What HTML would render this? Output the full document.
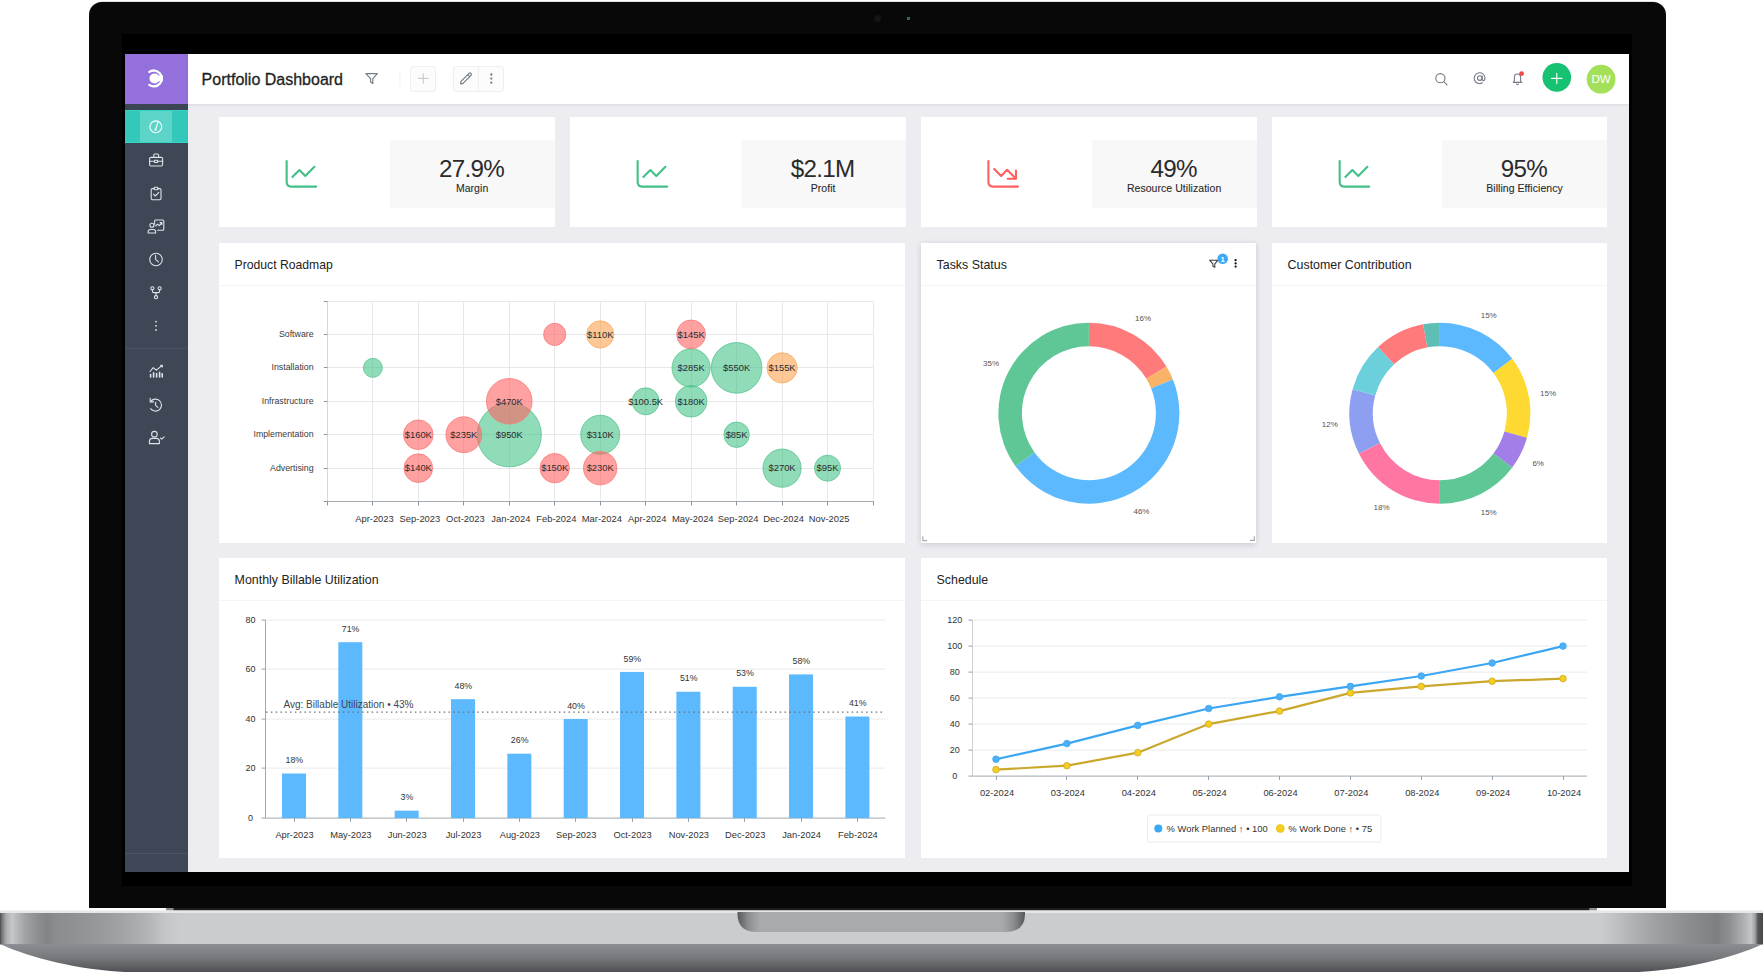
<!DOCTYPE html>
<html>
<head>
<meta charset="utf-8">
<title>Portfolio Dashboard</title>
<style>
*{box-sizing:border-box;margin:0;padding:0}
html,body{width:1763px;height:972px;overflow:hidden;background:#fff}
body{position:relative;font-family:"Liberation Sans",Arial,sans-serif;color:#222}
.abs{position:absolute}
#bezel{left:89px;top:1.8px;width:1576.6px;height:906px;background:#080808;border-radius:13px 13px 0 0;box-shadow:0 -0.5px 0.5px #c8c8c8}
#screen{left:122px;top:34px;width:1510px;height:852px;background:#000}
#cam{left:874px;top:15px;width:7px;height:7px;border-radius:50%;background:#141417}
#led{left:907px;top:17px;width:3px;height:3px;background:#2d6b55}
#app{left:125px;top:54px;width:1504px;height:818px;background:#ececf1;overflow:hidden}
#side{left:0;top:0;width:62.6px;height:818px;background:#3e4756}
#logo{left:0;top:0;width:62.6px;height:50px;background:#9370db}
#side .band{left:0;top:50px;width:62.6px;height:6px;background:#3c4553}
#side .act{left:0;top:56px;width:62.6px;height:33px;background:#33c8b9;border-top:1px solid #34d6c6;border-bottom:1px solid #34d6c6}
#side .act i{position:absolute;left:14.8px;top:0px;width:32.4px;height:31px;background:#5dd4c8}
#head{left:62.6px;top:0;width:1441.4px;height:51px;background:#fff;border-bottom:1px solid #dfe0e5;box-shadow:0 1px 3px rgba(60,60,90,0.05);z-index:2}
.card{position:absolute;background:#fff}
.kpi .box{position:absolute;right:0;top:22.6px;width:165px;height:68.2px;background:#f8f8f9;text-align:center}
.kpi .num{position:absolute;left:0;right:0;top:14.8px;font-size:24.2px;line-height:28px;color:#2b2b2b;letter-spacing:-0.7px;padding-right:1px}
.kpi .lbl{position:absolute;left:0;right:0;top:41.9px;font-size:10.5px;line-height:13px;color:#2a2a2a;letter-spacing:0.05px;-webkit-text-stroke:0.1px #2a2a2a}
.kpi svg.ic{position:absolute;left:61px;top:37.8px}
.ct{position:absolute;left:15.6px;top:13.8px;font-size:12.4px;line-height:16px;color:#222;white-space:nowrap}
.hsep{position:absolute;left:0;right:0;top:41.5px;height:1px;background:#f4f4f6}
svg text{font-family:"Liberation Sans",Arial,sans-serif}
#base{left:0;top:907px;width:1763px;height:65px}
</style>
</head>
<body>
<svg id="base" class="abs" width="1763" height="65" viewBox="0 907 1763 65">
<defs>
<linearGradient id="bandg" x1="0" x2="1763" y1="0" y2="0" gradientUnits="userSpaceOnUse">
<stop offset="0.00000" stop-color="#46484c"/>
<stop offset="0.00085" stop-color="#6e7074"/>
<stop offset="0.00340" stop-color="#a9abae"/>
<stop offset="0.00681" stop-color="#c6c8cb"/>
<stop offset="0.01021" stop-color="#b3b5b8"/>
<stop offset="0.01475" stop-color="#9fa1a5"/>
<stop offset="0.02155" stop-color="#8c8e92"/>
<stop offset="0.02666" stop-color="#828488"/>
<stop offset="0.03120" stop-color="#8a8c90"/>
<stop offset="0.05105" stop-color="#939599"/>
<stop offset="0.06807" stop-color="#a0a2a6"/>
<stop offset="0.08338" stop-color="#b1b3b6"/>
<stop offset="0.09359" stop-color="#c4c6c9"/>
<stop offset="0.10210" stop-color="#cacdd0"/>
<stop offset="0.90754" stop-color="#cacdd0"/>
<stop offset="0.91435" stop-color="#c2c4c7"/>
<stop offset="0.92513" stop-color="#b1b3b6"/>
<stop offset="0.94101" stop-color="#9c9ea2"/>
<stop offset="0.95746" stop-color="#8b8d91"/>
<stop offset="0.97391" stop-color="#7d7f83"/>
<stop offset="0.98128" stop-color="#8e9094"/>
<stop offset="0.98979" stop-color="#b2b4b7"/>
<stop offset="0.99319" stop-color="#c4c6c9"/>
<stop offset="0.99546" stop-color="#a0a2a6"/>
<stop offset="0.99716" stop-color="#55575b"/>
<stop offset="1.00000" stop-color="#45474b"/>
</linearGradient>
<linearGradient id="botg" x1="0" x2="0" y1="944" y2="972" gradientUnits="userSpaceOnUse">
<stop offset="0" stop-color="#8a8d91"/>
<stop offset="0.5" stop-color="#76787c"/>
<stop offset="1" stop-color="#4e5054"/>
</linearGradient>
<linearGradient id="notchg" x1="737" x2="1025" y1="0" y2="0" gradientUnits="userSpaceOnUse">
<stop offset="0" stop-color="#55575b"/>
<stop offset="0.04" stop-color="#8c8e92"/>
<stop offset="0.08" stop-color="#a8abae"/>
<stop offset="0.92" stop-color="#a8abae"/>
<stop offset="0.96" stop-color="#8c8e92"/>
<stop offset="1" stop-color="#55575b"/>
</linearGradient>
</defs>
<rect x="166" y="907.5" width="7.3" height="3" fill="#8c8c8f"/><rect x="173.3" y="907.5" width="1416.4" height="3" fill="#1c1c1c"/><rect x="1589.7" y="907.5" width="7.3" height="3" fill="#8c8c8f"/>
<rect x="0" y="910.5" width="1763" height="2.5" fill="#e6e7e9"/>
<rect x="0" y="913" width="1763" height="31.5" fill="url(#bandg)"/>
<path d="M0 944 L1763 944 C1733 958 1683 970 1638 972 L125 972 C80 970 30 958 0 944 Z" fill="url(#botg)"/>
<path d="M737.5 912 L1025 912 L1025 914 Q1025 932 1005 932 L757.5 932 Q737.5 932 737.5 914 Z" fill="url(#notchg)"/>
</svg>
<div id="bezel" class="abs"></div>
<div id="cam" class="abs"></div>
<div id="led" class="abs"></div>
<div id="screen" class="abs"></div>
<div id="app" class="abs">
  <div id="side" class="abs">
    <div id="logo" class="abs"></div>
    <div class="band abs"></div>
    <div class="act abs"><i></i></div>
    <svg class="abs" style="left:0;top:0" width="62" height="818" viewBox="125 54 62 818" fill="none" stroke="#dfe3e8" stroke-width="1.1" stroke-linecap="round" stroke-linejoin="round">
      <!-- logo -->
      <path d="M149.3 71.9 A7.9 7.9 0 1 1 149.3 84.9" stroke="#fff" stroke-width="2.3"/>
      <circle cx="154.5" cy="78.4" r="5" fill="#fff" stroke="none"/>
      <rect x="156.5" y="75.6" width="6.5" height="5.6" fill="#fff" stroke="none"/>
      <!-- gauge -->
      <circle cx="155.8" cy="126.8" r="5.9" stroke="#fff" stroke-width="1.1"/>
      <path d="M155.6 129.5 L157.8 122.6" stroke="#fff" stroke-width="1.1"/>
      <circle cx="155.5" cy="129.6" r="1.1" fill="#fff" stroke="none"/>
      <!-- briefcase -->
      <rect x="149.6" y="157.4" width="13" height="8.6" rx="1.4"/>
      <path d="M153.8 157.4 V155 Q153.8 154 154.8 154 H157.6 Q158.6 154 158.6 155 V157.4"/>
      <path d="M149.6 161.3 H154.6 M157.6 161.3 H162.6"/>
      <rect x="154.6" y="160.3" width="3" height="2.2" rx="0.3"/>
      <!-- clipboard -->
      <path d="M154.3 188.6 H152.4 Q151.2 188.6 151.2 189.8 V198.6 Q151.2 199.8 152.4 199.8 H159.8 Q161 199.8 161 198.6 V189.8 Q161 188.6 159.8 188.6 H157.9"/>
      <rect x="154.3" y="187.2" width="3.6" height="2.6" rx="0.6"/>
      <path d="M153.5 194.2 L155.3 196 L158.8 192.4"/>
      <!-- presentation -->
      <path d="M154.6 224.2 V221 Q154.6 220 155.6 220 H162.8 Q163.8 220 163.8 221 V229.2 Q163.8 230.2 162.8 230.2 H157.6"/>
      <circle cx="151.9" cy="225.3" r="2"/>
      <path d="M148.2 233 V231.6 Q148.2 229.5 150.3 229.5 H153.5 Q155.6 229.5 155.6 231.6 V233 Z"/>
      <path d="M155.6 226 L157.6 224.2 L159.3 225.6 L161.8 222.8 M160 222.6 H161.9 V224.4"/>
      <!-- clock -->
      <circle cx="156" cy="259.5" r="6.3"/>
      <path d="M155.6 255.2 V259.3 L158.4 261.8"/>
      <!-- fork -->
      <circle cx="152.4" cy="288.3" r="1.6"/>
      <circle cx="159.6" cy="288.3" r="1.6"/>
      <circle cx="156" cy="297.2" r="1.6"/>
      <path d="M152.4 289.9 V291.2 Q152.4 292.6 153.8 292.6 H158.2 Q159.6 292.6 159.6 291.2 V289.9 M156 292.6 V295.6"/>
      <!-- dots -->
      <circle cx="156" cy="321.6" r="0.9" fill="#dfe3e8" stroke="none"/>
      <circle cx="156" cy="325.8" r="0.9" fill="#dfe3e8" stroke="none"/>
      <circle cx="156" cy="330" r="0.9" fill="#dfe3e8" stroke="none"/>
      <!-- chart -->
      <path d="M150 371.5 L153.2 367.6 L156.4 370.2 L162.2 365.4 M160.6 365.3 H162.3 V367"/>
      <path d="M150.6 377 V374.6 M153.6 377 V372.8 M156.6 377 V373.6 M159.6 377 V372.4 M162.2 377 V373.8" stroke-width="1.6"/>
      <!-- history -->
      <path d="M150.6 401.6 A6 6 0 1 1 150.6 408.6"/>
      <path d="M150.2 398.4 V401.9 H153.6"/>
      <path d="M155.6 402.2 V405.4 L157.9 407.4"/>
      <!-- user check -->
      <circle cx="154.4" cy="434.2" r="2.8"/>
      <path d="M149.4 443.6 V441.4 Q149.4 438.4 152.4 438.4 H156.4 Q159.4 438.4 159.4 441.4 V443.6 Z"/>
      <path d="M160.6 438 L161.8 439.2 L164.2 436.8"/>
    </svg>
    <div class="abs" style="left:0;top:294px;width:62px;height:1px;background:#4c5564"></div>
    <div class="abs" style="left:0;top:799px;width:62px;height:1px;background:#4c5564"></div>
  </div>
  <div class="card kpi" style="left:94px;top:63.2px;width:335.6px;height:110px">
    <svg class="ic" width="42" height="37" viewBox="0 0 42 37" fill="none" stroke="#41bf86" stroke-width="2.1" stroke-linecap="round" stroke-linejoin="round"><path d="M6.66 6.1 V27.1 Q6.66 31.6 11.16 31.6 H36.2"/><path d="M12.4 21.9 L19.4 15 L25.3 20.9 L34.4 11.8"/></svg>
    <div class="box"><div class="num">27.9%</div><div class="lbl">Margin</div></div>
  </div>
  <div class="card kpi" style="left:445px;top:63.2px;width:335.6px;height:110px">
    <svg class="ic" width="42" height="37" viewBox="0 0 42 37" fill="none" stroke="#41bf86" stroke-width="2.1" stroke-linecap="round" stroke-linejoin="round"><path d="M6.66 6.1 V27.1 Q6.66 31.6 11.16 31.6 H36.2"/><path d="M12.4 21.9 L19.4 15 L25.3 20.9 L34.4 11.8"/></svg>
    <div class="box"><div class="num">$2.1M</div><div class="lbl">Profit</div></div>
  </div>
  <div class="card kpi" style="left:796px;top:63.2px;width:335.6px;height:110px">
    <svg class="ic" width="42" height="37" viewBox="0 0 42 37" fill="none" stroke="#ff6060" stroke-width="2.1" stroke-linecap="round" stroke-linejoin="round"><path d="M6.4 6.1 V27.1 Q6.4 31.6 10.9 31.6 H36"/><path d="M12.2 13.9 L19.2 20.9 L25.1 14.8 L33.5 23.2"/><path d="M34 15.6 V23.8 H25.7"/></svg>
    <div class="box"><div class="num">49%</div><div class="lbl">Resource Utilization</div></div>
  </div>
  <div class="card kpi" style="left:1147px;top:63.2px;width:335px;height:110px">
    <svg class="ic" width="42" height="37" viewBox="0 0 42 37" fill="none" stroke="#41bf86" stroke-width="2.1" stroke-linecap="round" stroke-linejoin="round"><path d="M6.66 6.1 V27.1 Q6.66 31.6 11.16 31.6 H36.2"/><path d="M12.4 21.9 L19.4 15 L25.3 20.9 L34.4 11.8"/></svg>
    <div class="box"><div class="num">95%</div><div class="lbl">Billing Efficiency</div></div>
  </div>
<!--CHARTS-->
  <div class="card" style="left:94px;top:189px;width:686px;height:300px;">
    <div class="ct"><span style="font-size:12.2px">Product Roadmap</span></div>
    <div class="hsep"></div>
    <svg class="abs" style="left:0;top:0" width="686" height="300" viewBox="219 243 686 300" fill="none">
<path d="M372.5 301.5V501.5M418.5 301.5V501.5M463.5 301.5V501.5M509.5 301.5V501.5M554.5 301.5V501.5M600.5 301.5V501.5M645.5 301.5V501.5M691.5 301.5V501.5M736.5 301.5V501.5M782.5 301.5V501.5M827.5 301.5V501.5M873.5 301.5V501.5M327.5 301.5H873.5M327.5 334.5H873.5M327.5 367.5H873.5M327.5 401.5H873.5M327.5 434.5H873.5M327.5 468.5H873.5" stroke="#e8e8eb" stroke-width="1"/>
<path d="M327.5 301.5V501.5" stroke="#d3d7dc" stroke-width="1"/>
<path d="M327.5 501.5H873.5" stroke="#a3abb3" stroke-width="1"/>
<path d="M323.8 301.5H327.5M323.8 334.5H327.5M323.8 367.5H327.5M323.8 401.5H327.5M323.8 434.5H327.5M323.8 468.5H327.5M323.8 501.5H327.5M327.5 501.5V505.4M372.5 501.5V505.4M418.5 501.5V505.4M463.5 501.5V505.4M509.5 501.5V505.4M554.5 501.5V505.4M600.5 501.5V505.4M645.5 501.5V505.4M691.5 501.5V505.4M736.5 501.5V505.4M782.5 501.5V505.4M827.5 501.5V505.4M873.5 501.5V505.4" stroke="#8e959e" stroke-width="1"/>
<text x="313.6" y="337.03" text-anchor="end" font-size="8.8" fill="#3a3a3a">Software</text>
<text x="313.6" y="370.47" text-anchor="end" font-size="8.8" fill="#3a3a3a">Installation</text>
<text x="313.6" y="403.9" text-anchor="end" font-size="8.8" fill="#3a3a3a">Infrastructure</text>
<text x="313.6" y="437.33" text-anchor="end" font-size="8.8" fill="#3a3a3a">Implementation</text>
<text x="313.6" y="470.77" text-anchor="end" font-size="8.8" fill="#3a3a3a">Advertising</text>
<text x="374.47" y="521.8" text-anchor="middle" font-size="9.4" fill="#333">Apr-2023</text>
<text x="419.93" y="521.8" text-anchor="middle" font-size="9.4" fill="#333">Sep-2023</text>
<text x="465.4" y="521.8" text-anchor="middle" font-size="9.4" fill="#333">Oct-2023</text>
<text x="510.87" y="521.8" text-anchor="middle" font-size="9.4" fill="#333">Jan-2024</text>
<text x="556.33" y="521.8" text-anchor="middle" font-size="9.4" fill="#333">Feb-2024</text>
<text x="601.8" y="521.8" text-anchor="middle" font-size="9.4" fill="#333">Mar-2024</text>
<text x="647.27" y="521.8" text-anchor="middle" font-size="9.4" fill="#333">Apr-2024</text>
<text x="692.73" y="521.8" text-anchor="middle" font-size="9.4" fill="#333">May-2024</text>
<text x="738.2" y="521.8" text-anchor="middle" font-size="9.4" fill="#333">Sep-2024</text>
<text x="783.67" y="521.8" text-anchor="middle" font-size="9.4" fill="#333">Dec-2024</text>
<text x="829.13" y="521.8" text-anchor="middle" font-size="9.4" fill="#333">Nov-2025</text>
<circle cx="372.87" cy="367.87" r="9.5" fill="rgba(52,189,125,0.55)" stroke="#56c490" stroke-width="0.8"/>
<circle cx="509.27" cy="434.73" r="32.1" fill="rgba(52,189,125,0.55)" stroke="#56c490" stroke-width="0.8"/>
<circle cx="600.2" cy="434.73" r="19.5" fill="rgba(52,189,125,0.55)" stroke="#56c490" stroke-width="0.8"/>
<circle cx="691.13" cy="367.87" r="19.1" fill="rgba(52,189,125,0.55)" stroke="#56c490" stroke-width="0.8"/>
<circle cx="736.6" cy="367.87" r="25.3" fill="rgba(52,189,125,0.55)" stroke="#56c490" stroke-width="0.8"/>
<circle cx="645.67" cy="401.3" r="13.5" fill="rgba(52,189,125,0.55)" stroke="#56c490" stroke-width="0.8"/>
<circle cx="691.13" cy="401.3" r="15.8" fill="rgba(52,189,125,0.55)" stroke="#56c490" stroke-width="0.8"/>
<circle cx="736.6" cy="434.73" r="12.7" fill="rgba(52,189,125,0.55)" stroke="#56c490" stroke-width="0.8"/>
<circle cx="782.07" cy="468.17" r="19.1" fill="rgba(52,189,125,0.55)" stroke="#56c490" stroke-width="0.8"/>
<circle cx="827.53" cy="468.17" r="13" fill="rgba(52,189,125,0.55)" stroke="#56c490" stroke-width="0.8"/>
<circle cx="600.2" cy="334.43" r="13.6" fill="rgba(251,161,72,0.58)" stroke="#f7ab5e" stroke-width="0.8"/>
<circle cx="782.07" cy="367.87" r="15.1" fill="rgba(251,161,72,0.58)" stroke="#f7ab5e" stroke-width="0.8"/>
<circle cx="554.73" cy="334.43" r="11.1" fill="rgba(255,98,98,0.6)" stroke="#fb7777" stroke-width="0.8"/>
<circle cx="691.13" cy="334.43" r="14.4" fill="rgba(255,98,98,0.6)" stroke="#fb7777" stroke-width="0.8"/>
<circle cx="509.27" cy="401.3" r="22.8" fill="rgba(255,98,98,0.6)" stroke="#fb7777" stroke-width="0.8"/>
<circle cx="418.33" cy="434.73" r="14.8" fill="rgba(255,98,98,0.6)" stroke="#fb7777" stroke-width="0.8"/>
<circle cx="463.8" cy="434.73" r="17.9" fill="rgba(255,98,98,0.6)" stroke="#fb7777" stroke-width="0.8"/>
<circle cx="418.33" cy="468.17" r="14.3" fill="rgba(255,98,98,0.6)" stroke="#fb7777" stroke-width="0.8"/>
<circle cx="554.73" cy="468.17" r="14.7" fill="rgba(255,98,98,0.6)" stroke="#fb7777" stroke-width="0.8"/>
<circle cx="600.2" cy="468.17" r="16.7" fill="rgba(255,98,98,0.6)" stroke="#fb7777" stroke-width="0.8"/>
<text x="509.27" y="438.03" text-anchor="middle" font-size="9.4" fill="#2b2b2b">$950K</text>
<text x="600.2" y="438.03" text-anchor="middle" font-size="9.4" fill="#2b2b2b">$310K</text>
<text x="691.13" y="371.17" text-anchor="middle" font-size="9.4" fill="#2b2b2b">$285K</text>
<text x="736.6" y="371.17" text-anchor="middle" font-size="9.4" fill="#2b2b2b">$550K</text>
<text x="645.67" y="404.6" text-anchor="middle" font-size="9.4" fill="#2b2b2b">$100.5K</text>
<text x="691.13" y="404.6" text-anchor="middle" font-size="9.4" fill="#2b2b2b">$180K</text>
<text x="736.6" y="438.03" text-anchor="middle" font-size="9.4" fill="#2b2b2b">$85K</text>
<text x="782.07" y="471.47" text-anchor="middle" font-size="9.4" fill="#2b2b2b">$270K</text>
<text x="827.53" y="471.47" text-anchor="middle" font-size="9.4" fill="#2b2b2b">$95K</text>
<text x="600.2" y="337.73" text-anchor="middle" font-size="9.4" fill="#2b2b2b">$110K</text>
<text x="782.07" y="371.17" text-anchor="middle" font-size="9.4" fill="#2b2b2b">$155K</text>
<text x="691.13" y="337.73" text-anchor="middle" font-size="9.4" fill="#2b2b2b">$145K</text>
<text x="509.27" y="404.6" text-anchor="middle" font-size="9.4" fill="#2b2b2b">$470K</text>
<text x="418.33" y="438.03" text-anchor="middle" font-size="9.4" fill="#2b2b2b">$160K</text>
<text x="463.8" y="438.03" text-anchor="middle" font-size="9.4" fill="#2b2b2b">$235K</text>
<text x="418.33" y="471.47" text-anchor="middle" font-size="9.4" fill="#2b2b2b">$140K</text>
<text x="554.73" y="471.47" text-anchor="middle" font-size="9.4" fill="#2b2b2b">$150K</text>
<text x="600.2" y="471.47" text-anchor="middle" font-size="9.4" fill="#2b2b2b">$230K</text>
    </svg>
  </div>
  <div class="card" style="left:796px;top:189px;width:335.2px;height:300px;box-shadow:0 0 5px rgba(40,40,60,0.10),0 3px 6px rgba(40,40,60,0.08);z-index:1">
    <div class="ct">Tasks Status</div>
    <div class="hsep"></div>
    <svg class="abs" style="left:0;top:0" width="335.2" height="300" viewBox="921 243 335.2 300" fill="none">
<path d="M1088.9 322.7A90.5 90.5 0 0 1 1166.47 366.59L1146.33 378.69A67 67 0 0 0 1088.9 346.2Z" fill="#ff7b7b"/>
<path d="M1166.47 366.59A90.5 90.5 0 0 1 1172.93 379.59L1151.11 388.32A67 67 0 0 0 1146.33 378.69Z" fill="#f9b368"/>
<path d="M1172.93 379.59A90.5 90.5 0 0 1 1015.5 466.14L1034.56 452.39A67 67 0 0 0 1151.11 388.32Z" fill="#5cb9fd"/>
<path d="M1015.5 466.14A90.5 90.5 0 0 1 1088.9 322.7L1088.9 346.2A67 67 0 0 0 1034.56 452.39Z" fill="#5ec795"/>
<text x="1143.1" y="321.2" text-anchor="middle" font-size="8" fill="#555">16%</text>
<text x="991" y="366.2" text-anchor="middle" font-size="8" fill="#555">35%</text>
<text x="1141.5" y="513.6" text-anchor="middle" font-size="8" fill="#555">46%</text>
<path d="M1209.6 260.2 H1218 L1214.8 263.9 V267.4 L1212.9 266.3 V263.9 Z" stroke="#3a3a3a" stroke-width="1.05" stroke-linejoin="round"/>
<circle cx="1222.7" cy="258.8" r="5.3" fill="#3ea8f7"/>
<text x="1222.5" y="261.6" text-anchor="middle" font-size="7.6" font-weight="bold" fill="#fff">1</text>
<circle cx="1235.6" cy="260.2" r="1.15" fill="#111"/>
<circle cx="1235.6" cy="263.4" r="1.15" fill="#111"/>
<circle cx="1235.6" cy="266.6" r="1.15" fill="#111"/>
<path d="M922.8 536.3 V540.6 H927" stroke="#a5a8ae" stroke-width="1.1"/>
<path d="M1254.3 536.3 V540.4 H1250" stroke="#a5a8ae" stroke-width="1.1"/>
    </svg>
  </div>
  <div class="card" style="left:1147px;top:189px;width:335px;height:300px;">
    <div class="ct">Customer Contribution</div>
    <div class="hsep"></div>
    <svg class="abs" style="left:0;top:0" width="335" height="300" viewBox="1272 243 335 300" fill="none">
<path d="M1439.9 322.7A90.5 90.5 0 0 1 1512.27 358.86L1493.48 372.97A67 67 0 0 0 1439.9 346.2Z" fill="#5cb9fd"/>
<path d="M1512.27 358.86A90.5 90.5 0 0 1 1527 437.77L1504.38 431.39A67 67 0 0 0 1493.48 372.97Z" fill="#fed932"/>
<path d="M1527 437.77A90.5 90.5 0 0 1 1512.27 467.54L1493.48 453.43A67 67 0 0 0 1504.38 431.39Z" fill="#a27fe8"/>
<path d="M1512.27 467.54A90.5 90.5 0 0 1 1439.9 503.7L1439.9 480.2A67 67 0 0 0 1493.48 453.43Z" fill="#5ec795"/>
<path d="M1439.9 503.7A90.5 90.5 0 0 1 1358.91 453.58L1379.94 443.1A67 67 0 0 0 1439.9 480.2Z" fill="#ff76a3"/>
<path d="M1358.91 453.58A90.5 90.5 0 0 1 1352.61 389.32L1375.27 395.52A67 67 0 0 0 1379.94 443.1Z" fill="#8e9ef0"/>
<path d="M1352.61 389.32A90.5 90.5 0 0 1 1378.06 347.12L1394.12 364.28A67 67 0 0 0 1375.27 395.52Z" fill="#6ccfdc"/>
<path d="M1378.06 347.12A90.5 90.5 0 0 1 1423.1 324.27L1427.46 347.36A67 67 0 0 0 1394.12 364.28Z" fill="#ff7b7b"/>
<path d="M1423.1 324.27A90.5 90.5 0 0 1 1439.9 322.7L1439.9 346.2A67 67 0 0 0 1427.46 347.36Z" fill="#5ebeb4"/>
<text x="1488.7" y="317.7" text-anchor="middle" font-size="8" fill="#555">15%</text>
<text x="1548" y="396.2" text-anchor="middle" font-size="8" fill="#555">15%</text>
<text x="1538.2" y="465.8" text-anchor="middle" font-size="8" fill="#555">6%</text>
<text x="1488.7" y="514.6" text-anchor="middle" font-size="8" fill="#555">15%</text>
<text x="1381.5" y="510.4" text-anchor="middle" font-size="8" fill="#555">18%</text>
<text x="1329.8" y="426.5" text-anchor="middle" font-size="8" fill="#555">12%</text>
    </svg>
  </div>
  <div class="card" style="left:94px;top:504.4px;width:686px;height:299.5px;">
    <div class="ct">Monthly Billable Utilization</div>
    <div class="hsep"></div>
    <svg class="abs" style="left:0;top:0" width="686" height="299.5" viewBox="219 558.4 686 299.5" fill="none">
<path d="M265.5 768.5H885.3M265.5 719.5H885.3M265.5 669.5H885.3M265.5 620.5H885.3" stroke="#ebebee" stroke-width="1"/>
<path d="M265.5 620.5V818.5H885.3" stroke="#a0a8b0" stroke-width="1"/>
<text x="250.4" y="821.6" text-anchor="middle" font-size="9" fill="#333">0</text>
<text x="250.4" y="771.6" text-anchor="middle" font-size="9" fill="#333">20</text>
<text x="250.4" y="722.6" text-anchor="middle" font-size="9" fill="#333">40</text>
<text x="250.4" y="672.6" text-anchor="middle" font-size="9" fill="#333">60</text>
<text x="250.4" y="623.6" text-anchor="middle" font-size="9" fill="#333">80</text>
<rect x="282" y="773.9" width="24" height="44.6" fill="#5db9fd"/>
<text x="294.3" y="763.61" text-anchor="middle" font-size="8.8" fill="#333">18%</text>
<text x="294.5" y="838.2" text-anchor="middle" font-size="9.3" fill="#333">Apr-2023</text>
<rect x="338.34" y="642.6" width="24" height="175.9" fill="#5db9fd"/>
<text x="350.64" y="632.3" text-anchor="middle" font-size="8.8" fill="#333">71%</text>
<text x="350.84" y="838.2" text-anchor="middle" font-size="9.3" fill="#333">May-2023</text>
<rect x="394.68" y="811.07" width="24" height="7.43" fill="#5db9fd"/>
<text x="406.98" y="800.77" text-anchor="middle" font-size="8.8" fill="#333">3%</text>
<text x="407.18" y="838.2" text-anchor="middle" font-size="9.3" fill="#333">Jun-2023</text>
<rect x="451.02" y="699.58" width="24" height="118.92" fill="#5db9fd"/>
<text x="463.32" y="689.28" text-anchor="middle" font-size="8.8" fill="#333">48%</text>
<text x="463.52" y="838.2" text-anchor="middle" font-size="9.3" fill="#333">Jul-2023</text>
<rect x="507.36" y="754.09" width="24" height="64.42" fill="#5db9fd"/>
<text x="519.66" y="743.79" text-anchor="middle" font-size="8.8" fill="#333">26%</text>
<text x="519.86" y="838.2" text-anchor="middle" font-size="9.3" fill="#333">Aug-2023</text>
<rect x="563.7" y="719.4" width="24" height="99.1" fill="#5db9fd"/>
<text x="576" y="709.1" text-anchor="middle" font-size="8.8" fill="#333">40%</text>
<text x="576.2" y="838.2" text-anchor="middle" font-size="9.3" fill="#333">Sep-2023</text>
<rect x="620.04" y="672.33" width="24" height="146.17" fill="#5db9fd"/>
<text x="632.34" y="662.03" text-anchor="middle" font-size="8.8" fill="#333">59%</text>
<text x="632.54" y="838.2" text-anchor="middle" font-size="9.3" fill="#333">Oct-2023</text>
<rect x="676.38" y="692.15" width="24" height="126.35" fill="#5db9fd"/>
<text x="688.68" y="681.85" text-anchor="middle" font-size="8.8" fill="#333">51%</text>
<text x="688.88" y="838.2" text-anchor="middle" font-size="9.3" fill="#333">Nov-2023</text>
<rect x="732.72" y="687.19" width="24" height="131.31" fill="#5db9fd"/>
<text x="745.02" y="676.89" text-anchor="middle" font-size="8.8" fill="#333">53%</text>
<text x="745.22" y="838.2" text-anchor="middle" font-size="9.3" fill="#333">Dec-2023</text>
<rect x="789.06" y="674.8" width="24" height="143.7" fill="#5db9fd"/>
<text x="801.36" y="664.5" text-anchor="middle" font-size="8.8" fill="#333">58%</text>
<text x="801.56" y="838.2" text-anchor="middle" font-size="9.3" fill="#333">Jan-2024</text>
<rect x="845.4" y="716.92" width="24" height="101.58" fill="#5db9fd"/>
<text x="857.7" y="706.62" text-anchor="middle" font-size="8.8" fill="#333">41%</text>
<text x="857.9" y="838.2" text-anchor="middle" font-size="9.3" fill="#333">Feb-2024</text>
<path d="M261.6 818.5H265.5M261.6 768.5H265.5M261.6 719.5H265.5M261.6 669.5H265.5M261.6 620.5H265.5M294.5 818.5V822.3M350.5 818.5V822.3M406.5 818.5V822.3M463.5 818.5V822.3M519.5 818.5V822.3M575.5 818.5V822.3M632.5 818.5V822.3M688.5 818.5V822.3M744.5 818.5V822.3M801.5 818.5V822.3M857.5 818.5V822.3" stroke="#9aa1ab" stroke-width="1"/>
<path d="M266.1 712.5H885.3" stroke="#6a6f78" stroke-width="1.1" stroke-dasharray="1.5 3.3"/>
<text x="283.4" y="708.9" font-size="10" fill="#3d4654">Avg: Billable Utilization • 43%</text>
    </svg>
  </div>
  <div class="card" style="left:796px;top:504.4px;width:686px;height:299.5px;">
    <div class="ct">Schedule</div>
    <div class="hsep"></div>
    <svg class="abs" style="left:0;top:0" width="686" height="299.5" viewBox="921 558.4 686 299.5" fill="none">
<path d="M972.5 750.5H1587.1M972.5 724.5H1587.1M972.5 698.5H1587.1M972.5 672.5H1587.1M972.5 646.5H1587.1M972.5 620.5H1587.1" stroke="#ebebee" stroke-width="1"/>
<path d="M972.5 620.5V776.5" stroke="#cfd3d8" stroke-width="1"/>
<path d="M972.5 776.5H1587.1" stroke="#a0a8b0" stroke-width="1"/>
<text x="954.7" y="779.6" text-anchor="middle" font-size="9" fill="#333">0</text>
<text x="954.7" y="753.6" text-anchor="middle" font-size="9" fill="#333">20</text>
<text x="954.7" y="727.6" text-anchor="middle" font-size="9" fill="#333">40</text>
<text x="954.7" y="701.6" text-anchor="middle" font-size="9" fill="#333">60</text>
<text x="954.7" y="675.6" text-anchor="middle" font-size="9" fill="#333">80</text>
<text x="954.7" y="649.6" text-anchor="middle" font-size="9" fill="#333">100</text>
<text x="954.7" y="623.6" text-anchor="middle" font-size="9" fill="#333">120</text>
<text x="997" y="796.2" text-anchor="middle" font-size="9.3" fill="#333">02-2024</text>
<text x="1067.88" y="796.2" text-anchor="middle" font-size="9.3" fill="#333">03-2024</text>
<text x="1138.75" y="796.2" text-anchor="middle" font-size="9.3" fill="#333">04-2024</text>
<text x="1209.62" y="796.2" text-anchor="middle" font-size="9.3" fill="#333">05-2024</text>
<text x="1280.5" y="796.2" text-anchor="middle" font-size="9.3" fill="#333">06-2024</text>
<text x="1351.38" y="796.2" text-anchor="middle" font-size="9.3" fill="#333">07-2024</text>
<text x="1422.25" y="796.2" text-anchor="middle" font-size="9.3" fill="#333">08-2024</text>
<text x="1493.12" y="796.2" text-anchor="middle" font-size="9.3" fill="#333">09-2024</text>
<text x="1564" y="796.2" text-anchor="middle" font-size="9.3" fill="#333">10-2024</text>
<path d="M968.5 776.5H972.5M968.5 750.5H972.5M968.5 724.5H972.5M968.5 698.5H972.5M968.5 672.5H972.5M968.5 646.5H972.5M968.5 620.5H972.5M996.5 776.5V780.3M1066.5 776.5V780.3M1137.5 776.5V780.3M1208.5 776.5V780.3M1279.5 776.5V780.3M1350.5 776.5V780.3M1421.5 776.5V780.3M1492.5 776.5V780.3M1563.5 776.5V780.3" stroke="#9aa1ab" stroke-width="1"/>
<polyline points="996,770 1066.88,766.1 1137.75,753.1 1208.62,724.5 1279.5,711.5 1350.38,693.3 1421.25,686.8 1492.12,681.6 1563,679" fill="none" stroke="#c9a82c" stroke-width="2.2" stroke-linejoin="round"/><circle cx="996" cy="770" r="3.3" fill="#f7cd1f" stroke="#c9a82c" stroke-width="0.8"/><circle cx="1066.88" cy="766.1" r="3.3" fill="#f7cd1f" stroke="#c9a82c" stroke-width="0.8"/><circle cx="1137.75" cy="753.1" r="3.3" fill="#f7cd1f" stroke="#c9a82c" stroke-width="0.8"/><circle cx="1208.62" cy="724.5" r="3.3" fill="#f7cd1f" stroke="#c9a82c" stroke-width="0.8"/><circle cx="1279.5" cy="711.5" r="3.3" fill="#f7cd1f" stroke="#c9a82c" stroke-width="0.8"/><circle cx="1350.38" cy="693.3" r="3.3" fill="#f7cd1f" stroke="#c9a82c" stroke-width="0.8"/><circle cx="1421.25" cy="686.8" r="3.3" fill="#f7cd1f" stroke="#c9a82c" stroke-width="0.8"/><circle cx="1492.12" cy="681.6" r="3.3" fill="#f7cd1f" stroke="#c9a82c" stroke-width="0.8"/><circle cx="1563" cy="679" r="3.3" fill="#f7cd1f" stroke="#c9a82c" stroke-width="0.8"/>
<polyline points="996,759.6 1066.88,744 1137.75,725.8 1208.62,708.9 1279.5,697.2 1350.38,686.8 1421.25,676.4 1492.12,663.4 1563,646.5" fill="none" stroke="#3aa6f2" stroke-width="2.2" stroke-linejoin="round"/><circle cx="996" cy="759.6" r="3.3" fill="#4cb0f7" stroke="#3aa6f2" stroke-width="0.8"/><circle cx="1066.88" cy="744" r="3.3" fill="#4cb0f7" stroke="#3aa6f2" stroke-width="0.8"/><circle cx="1137.75" cy="725.8" r="3.3" fill="#4cb0f7" stroke="#3aa6f2" stroke-width="0.8"/><circle cx="1208.62" cy="708.9" r="3.3" fill="#4cb0f7" stroke="#3aa6f2" stroke-width="0.8"/><circle cx="1279.5" cy="697.2" r="3.3" fill="#4cb0f7" stroke="#3aa6f2" stroke-width="0.8"/><circle cx="1350.38" cy="686.8" r="3.3" fill="#4cb0f7" stroke="#3aa6f2" stroke-width="0.8"/><circle cx="1421.25" cy="676.4" r="3.3" fill="#4cb0f7" stroke="#3aa6f2" stroke-width="0.8"/><circle cx="1492.12" cy="663.4" r="3.3" fill="#4cb0f7" stroke="#3aa6f2" stroke-width="0.8"/><circle cx="1563" cy="646.5" r="3.3" fill="#4cb0f7" stroke="#3aa6f2" stroke-width="0.8"/>
<rect x="1147.5" y="815.5" width="233.5" height="27" rx="2" fill="#fff" stroke="#ececef"/>
<circle cx="1158.3" cy="828.9" r="4" fill="#3aa8f5"/>
<text x="1166.6" y="832.2" font-size="9.4" fill="#333">% Work Planned ↑ • 100</text>
<circle cx="1280.3" cy="828.9" r="4" fill="#f7cd1f" stroke="#e0b800" stroke-width="0.6"/>
<text x="1288.3" y="832.2" font-size="9.4" fill="#333">% Work Done ↑ • 75</text>
    </svg>
  </div>
<!--/CHARTS-->
  <div id="head" class="abs">
    <div class="abs" style="left:14px;top:17.3px;font-size:16px;line-height:18px;color:#1f1f22;-webkit-text-stroke:0.3px #1f1f22;white-space:nowrap">Portfolio Dashboard</div>
    <div class="abs" style="left:222.5px;top:11.6px;width:26.2px;height:26.4px;border:1px solid #efeff2;border-radius:3px;background:#fcfcfd"></div>
    <div class="abs" style="left:265.3px;top:11.6px;width:51.1px;height:26.4px;border:1px solid #efeff2;border-radius:3px;background:#fcfcfd"></div>
    <svg class="abs" style="left:0;top:0" width="1441.4" height="50" viewBox="187.6 54 1441.4 50" fill="none" stroke-linecap="round" stroke-linejoin="round">
      <path d="M365.4 73.6 H377 L372.4 78.6 V83.4 L370.2 82 V78.6 Z" stroke="#747b86" stroke-width="1.15"/>
      <path d="M399.5 71.3 V86" stroke="#efeff2" stroke-width="1"/>
      <path d="M417.9 78.4 H427.9 M422.9 73.8 V83.2" stroke="#c4c6ca" stroke-width="1"/>
      <path d="M478 66.5 V91.3" stroke="#ededf0" stroke-width="1"/>
      <path d="M460.2 84 L460.6 81.4 L468.6 73.4 Q469.6 72.4 470.6 73.4 Q471.6 74.4 470.6 75.4 L462.6 83.4 Z M467.4 74.6 L469.4 76.6" stroke="#747b86" stroke-width="1.15"/>
      <circle cx="490.9" cy="74.5" r="1.15" fill="#747b86"/>
      <circle cx="490.9" cy="78.6" r="1.15" fill="#747b86"/>
      <circle cx="490.9" cy="82.7" r="1.15" fill="#747b86"/>
      <!-- right icons -->
      <circle cx="1440" cy="78.2" r="4.6" stroke="#747b86" stroke-width="1.15"/>
      <path d="M1443.4 81.6 L1446.6 84.8" stroke="#747b86" stroke-width="1.15"/>
      <circle cx="1479.4" cy="78.1" r="2.3" stroke="#747b86" stroke-width="1.1"/>
      <path d="M1481.7 76 V79 Q1481.7 80.6 1483 80.6 Q1484.6 80.6 1484.6 77.8 A5.4 5.4 0 1 0 1482 82.8" stroke="#747b86" stroke-width="1.1"/>
      <path d="M1512.9 82.4 H1521.3 L1520.2 80.8 V77.6 Q1520.2 74 1517.1 74 Q1514 74 1514 77.6 V80.8 Z M1516 84 Q1517.1 85.2 1518.2 84" stroke="#747b86" stroke-width="1.1"/>
      <circle cx="1521.2" cy="73.6" r="2.4" fill="#f24848"/>
      <circle cx="1556.4" cy="77.4" r="14.3" fill="#16c172"/>
      <path d="M1551.2 78.4 H1561.6 M1556.4 73.2 V83.6" stroke="#fff" stroke-width="1.1"/>
      <circle cx="1600.7" cy="79.2" r="14.4" fill="#a5e05b"/>
      <text x="1600.7" y="83.4" text-anchor="middle" font-size="11.6" fill="#fff" stroke="none">DW</text>
    </svg>
  </div>
</div>
</body>
</html>
